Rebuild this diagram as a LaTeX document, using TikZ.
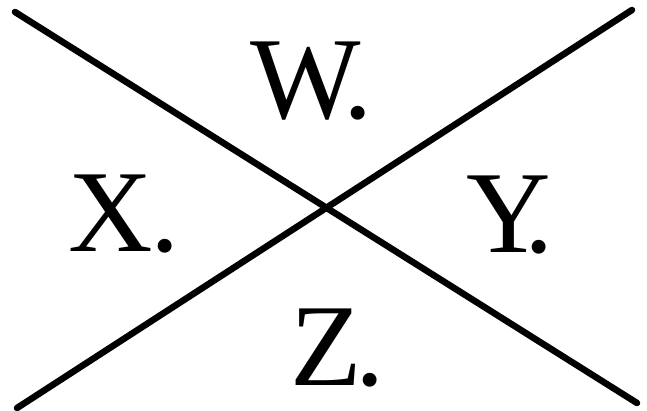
\documentclass[tikz,border=0pt]{standalone}
\usepackage{fontspec}
\setmainfont{Liberation Serif}
\begin{document}
\begin{tikzpicture}[x=1pt,y=-1pt,
  lbl/.style={anchor=base west,inner sep=0pt,font=\fontsize{117}{117}\selectfont},
  bar/.style={line width=6.5pt,line cap=round}]
\useasboundingbox (0,0) rectangle (647,410);
\coordinate (a1) at (15,12);
\coordinate (a2) at (637,403);
\coordinate (b1) at (632,10);
\coordinate (b2) at (17,408);
\draw[bar] (a1) -- (a2);
\draw[bar] (b1) -- (b2);
\node[lbl] (w) at (250,118) {W\kern-17pt.};
\node[lbl] (x) at (68,251) {X\kern-2pt.};
\node[lbl] (y) at (466,252) {Y\kern-26pt.};
\node[lbl] (z) at (290,385) {Z\kern-6pt.};
\end{tikzpicture}
\end{document}
